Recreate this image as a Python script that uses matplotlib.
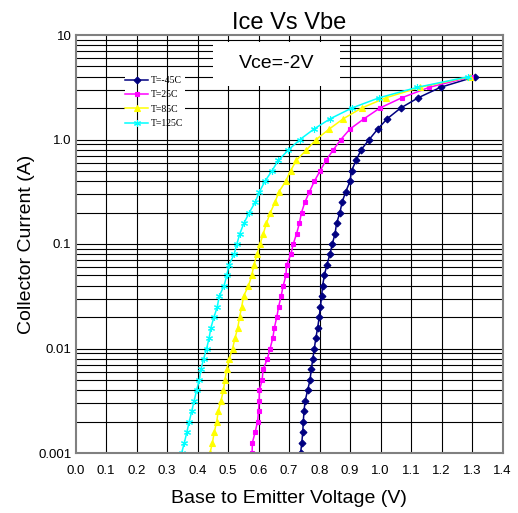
import matplotlib
matplotlib.use("Agg")
import matplotlib.pyplot as plt
from matplotlib.patches import Rectangle

# Collector current levels (A)
current = [0.001, 0.00126, 0.00158, 0.002, 0.00251, 0.00316, 0.00398, 0.00501, 0.00631, 0.00794,
           0.01, 0.0126, 0.0158, 0.02, 0.0251, 0.0316, 0.0398, 0.0501, 0.0631, 0.0794,
           0.1, 0.126, 0.158, 0.2, 0.251, 0.316, 0.398, 0.501, 0.631, 0.794,
           1.0, 1.26, 1.58, 2.0, 2.51, 3.16, 3.98]

vbe_m45 = [0.738, 0.742, 0.745, 0.747, 0.749, 0.753, 0.761, 0.769, 0.773, 0.778,
           0.783, 0.788, 0.794, 0.799, 0.803, 0.807, 0.810, 0.816, 0.824, 0.834,
           0.842, 0.851, 0.856, 0.867, 0.874, 0.886, 0.900, 0.905, 0.920, 0.936,
           0.963, 0.991, 1.022, 1.066, 1.124, 1.197, 1.310]
vbe_25 = [0.579, 0.580, 0.589, 0.597, 0.600, 0.602, 0.603, 0.612, 0.615, 0.629,
          0.638, 0.647, 0.652, 0.660, 0.666, 0.674, 0.681, 0.690, 0.692, 0.706,
          0.714, 0.725, 0.734, 0.741, 0.752, 0.767, 0.783, 0.802, 0.821, 0.845,
          0.870, 0.900, 0.946, 0.998, 1.070, 1.160, 1.297]
vbe_85 = [0.441, 0.449, 0.455, 0.463, 0.468, 0.477, 0.485, 0.490, 0.496, 0.504,
          0.515, 0.523, 0.532, 0.538, 0.545, 0.551, 0.567, 0.578, 0.585, 0.595,
          0.605, 0.616, 0.626, 0.639, 0.654, 0.667, 0.689, 0.705, 0.724, 0.757,
          0.789, 0.832, 0.878, 0.938, 1.018, 1.130, 1.293]
vbe_125 = [0.348, 0.357, 0.365, 0.373, 0.381, 0.389, 0.397, 0.406, 0.411, 0.420,
           0.430, 0.438, 0.444, 0.454, 0.465, 0.471, 0.487, 0.496, 0.503, 0.520,
           0.529, 0.539, 0.552, 0.570, 0.589, 0.603, 0.621, 0.644, 0.665, 0.698,
           0.736, 0.782, 0.835, 0.906, 0.996, 1.121, 1.287]

labels = ["T=-45C", "T=25C", "T=85C", "T=125C"]
x_ticks = [0.0, 0.1, 0.2, 0.3, 0.4, 0.5, 0.6, 0.7, 0.8, 0.9, 1.0, 1.1, 1.2, 1.3, 1.4]
x_ticklabels = ["0.0", "0.1", "0.2", "0.3", "0.4", "0.5", "0.6", "0.7", "0.8", "0.9", "1.0", "1.1", "1.2", "1.3", "1.4"]
y_ticks = [0.001, 0.01, 0.1, 1.0, 10]
y_ticklabels = ["0.001", "0.01", "0.1", "1.0", "10"]

plt.rcParams['font.family'] = ['Liberation Sans', 'DejaVu Sans']

fig = plt.figure(figsize=(5.18, 5.13), dpi=100)
ax = fig.add_axes([75.5 / 518, 1 - 453 / 513, 427 / 518, 418 / 513])
ax.set_yscale('log')
ax.set_xlim(0.0, 1.4)
ax.set_ylim(0.001, 10)

# grid: horizontal lines under legend box, vertical over it
for dec in [0.001, 0.01, 0.1, 1.0]:
    for m in range(1, 10):
        ax.axhline(dec * m, color='black', lw=0.8, zorder=1)
for xv in x_ticks[1:-1]:
    ax.axvline(xv, color='black', lw=0.8, zorder=3)

# white boxes
ax.add_patch(Rectangle(((125 - 75.5) / 427, 1 - (130 - 35) / 418), 60 / 427, 58 / 418,
                       transform=ax.transAxes, facecolor='white', edgecolor='none', zorder=2))
ax.add_patch(Rectangle(((213 - 75.5) / 427, 1 - (86 - 35) / 418), 127 / 427, 44 / 418,
                       transform=ax.transAxes, facecolor='white', edgecolor='none', zorder=4))
ax.text((276.5 - 75.5) / 427, 1 - (64 - 35) / 418, "Vce=-2V", transform=ax.transAxes,
        ha='center', va='center', fontsize=14, zorder=5)

styles = [
    (vbe_m45, '#000080', 'D', 3.5),
    (vbe_25, '#FF00FF', 's', 3.5),
    (vbe_85, '#FFFF00', '^', 4.5),
    (vbe_125, '#00FFFF', (6, 2, 0), 5),
]
for (v, c, mk, ms), lab in zip(styles, labels):
    ax.plot(v, current, color=c, lw=1.1, marker=mk, markersize=ms,
            markerfacecolor=c, markeredgecolor=c, markeredgewidth=0.8, label=lab, zorder=6)

leg = ax.legend(loc='upper left', bbox_to_anchor=((125 - 75.5) / 427, 1 - (76 - 35) / 418),
                frameon=False, prop={'family': 'Liberation Serif', 'size': 7},
                handlelength=2.4, handletextpad=0.3, labelspacing=0.55, borderpad=0.0,
                borderaxespad=0.0)
leg.set_zorder(7)

ax.set_xticks(x_ticks)
ax.set_xticklabels(x_ticklabels, fontsize=9.5)
ax.set_yticks(y_ticks)
ax.set_yticklabels(y_ticklabels, fontsize=9.5)
ax.minorticks_off()
ax.tick_params(axis='both', length=0)
ax.tick_params(axis='x', pad=9)
ax.tick_params(axis='y', pad=3)

for s in ax.spines.values():
    s.set_color('#808080')
    s.set_linewidth(1.5)
    s.set_zorder(8)

ax.set_xlabel("Base to Emitter Voltage (V)", fontsize=14, labelpad=9)
ax.set_ylabel("Collector Current (A)", fontsize=14, labelpad=2)
ax.set_title("Ice Vs Vbe", fontsize=17, pad=4)

fig.savefig("out.png", dpi=100)
